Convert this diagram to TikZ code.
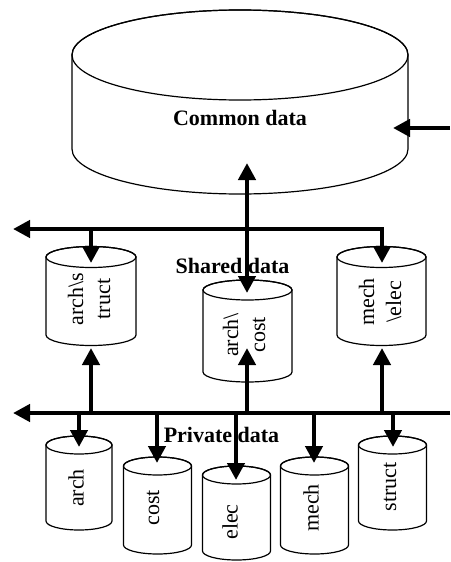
\documentclass[tikz,border=0pt]{standalone}
\usepackage{fontspec}
\setmainfont{Liberation Serif}
\usetikzlibrary{arrows.meta}
\newcommand\drawcyl[5]{% cx, y top centre, y bottom centre, rx, ry
  \path[cyl] ({#1-#4},#2) -- ({#1-#4},#3)
    arc[start angle=180,end angle=0,x radius=#4,y radius=#5]
    -- ({#1+#4},#2)
    arc[start angle=0,end angle=-180,x radius=#4,y radius=#5] -- cycle;
  \draw[cyl,fill=none] (#1,#2) ellipse[x radius=#4,y radius=#5];
}
\begin{document}
\begin{tikzpicture}[x=1pt,y=-1pt,
  cyl/.style={draw=black,fill=white,line width=1.2pt},
  lbl/.style={font=\fontsize{22}{27}\selectfont,inner sep=0pt,align=center},
  ttl/.style={font=\fontsize{22}{27}\selectfont\bfseries,inner sep=0pt},
  tip/.style={Triangle[length=17pt,width=17pt]},
  flow/.style={line width=4.3pt,-{Triangle[length=17pt,width=17pt]}},
  flowtwo/.style={line width=4.3pt,{Triangle[length=17pt,width=17pt]}-{Triangle[length=17pt,width=17pt]}}]
\useasboundingbox (0,0) rectangle (450,562);

% cylinders
\drawcyl{240}{55}{149}{168}{45}
\drawcyl{91}{257}{335}{45}{10.5}
\drawcyl{247.5}{290}{372}{44.5}{10}
\drawcyl{381.5}{257}{335}{44.5}{10.5}
\drawcyl{79}{445}{521}{33}{9}
\drawcyl{157.5}{466}{545}{34}{9}
\drawcyl{236.5}{475}{551}{34}{9}
\drawcyl{314.5}{466}{545}{34}{9}
\drawcyl{392.5}{445}{521}{34}{9}

% labels
\node[ttl] (common) at (240,118) {Common data};
\node[ttl] (shared) at (232.5,266) {Shared data};
\node[ttl] (private) at (221.5,435) {Private data};
\node[lbl,rotate=90] (archstruct) at (89,299) {arch\textbackslash s\\truct};
\node[lbl,rotate=90] (archcost) at (244,335) {arch\textbackslash\\cost};
\node[lbl,rotate=90] (mechelec) at (380,302) {mech\\\textbackslash elec};
\node[lbl,rotate=90] (arch) at (76,488) {arch};
\node[lbl,rotate=90] (cost) at (153,508) {cost};
\node[lbl,rotate=90] (elec) at (230,522) {elec};
\node[lbl,rotate=90] (mech) at (311,508) {mech};
\node[lbl,rotate=90] (struct) at (390,487) {struct};

% connector points
\coordinate (cdsrc) at (450,128);
\coordinate (cdin) at (393,128);
\coordinate (cdbot) at (247,163);
\coordinate (actop) at (247,293);
\coordinate (tbleft) at (13,229);
\coordinate (tbcorner) at (382,229);
\coordinate (tbas) at (91,229);
\coordinate (astop) at (91,263);
\coordinate (metop) at (382,263);
\coordinate (lbleft) at (13,413);
\coordinate (lbright) at (450,413);
\coordinate (lbas) at (91,413);
\coordinate (lbac) at (247,413);
\coordinate (lbme) at (382,413);
\coordinate (asbot) at (91,348);
\coordinate (acbot) at (247,348);
\coordinate (mebot) at (382,348);
\coordinate (lbarch) at (79,413);
\coordinate (lbcost) at (157,413);
\coordinate (lbelec) at (236,413);
\coordinate (lbmech) at (314,413);
\coordinate (lbstruct) at (393,413);
\coordinate (archtop) at (79,447);
\coordinate (costtop) at (157,463);
\coordinate (electop) at (236,480);
\coordinate (mechtop) at (314,463);
\coordinate (structtop) at (393,447);

% connectors
\draw[flow] (cdsrc) -- (cdin);
\draw[flowtwo] (actop) -- (cdbot);
\draw[flowtwo] (tbleft) -- (tbcorner) -- (metop);
\draw[flow] (tbas) -- (astop);
\draw[flow] (lbright) -- (lbleft);
\draw[flow] (lbas) -- (asbot);
\draw[flow] (lbac) -- (acbot);
\draw[flow] (lbme) -- (mebot);
\draw[flow] (lbarch) -- (archtop);
\draw[flow] (lbcost) -- (costtop);
\draw[flow] (lbelec) -- (electop);
\draw[flow] (lbmech) -- (mechtop);
\draw[flow] (lbstruct) -- (structtop);
\end{tikzpicture}
\end{document}
